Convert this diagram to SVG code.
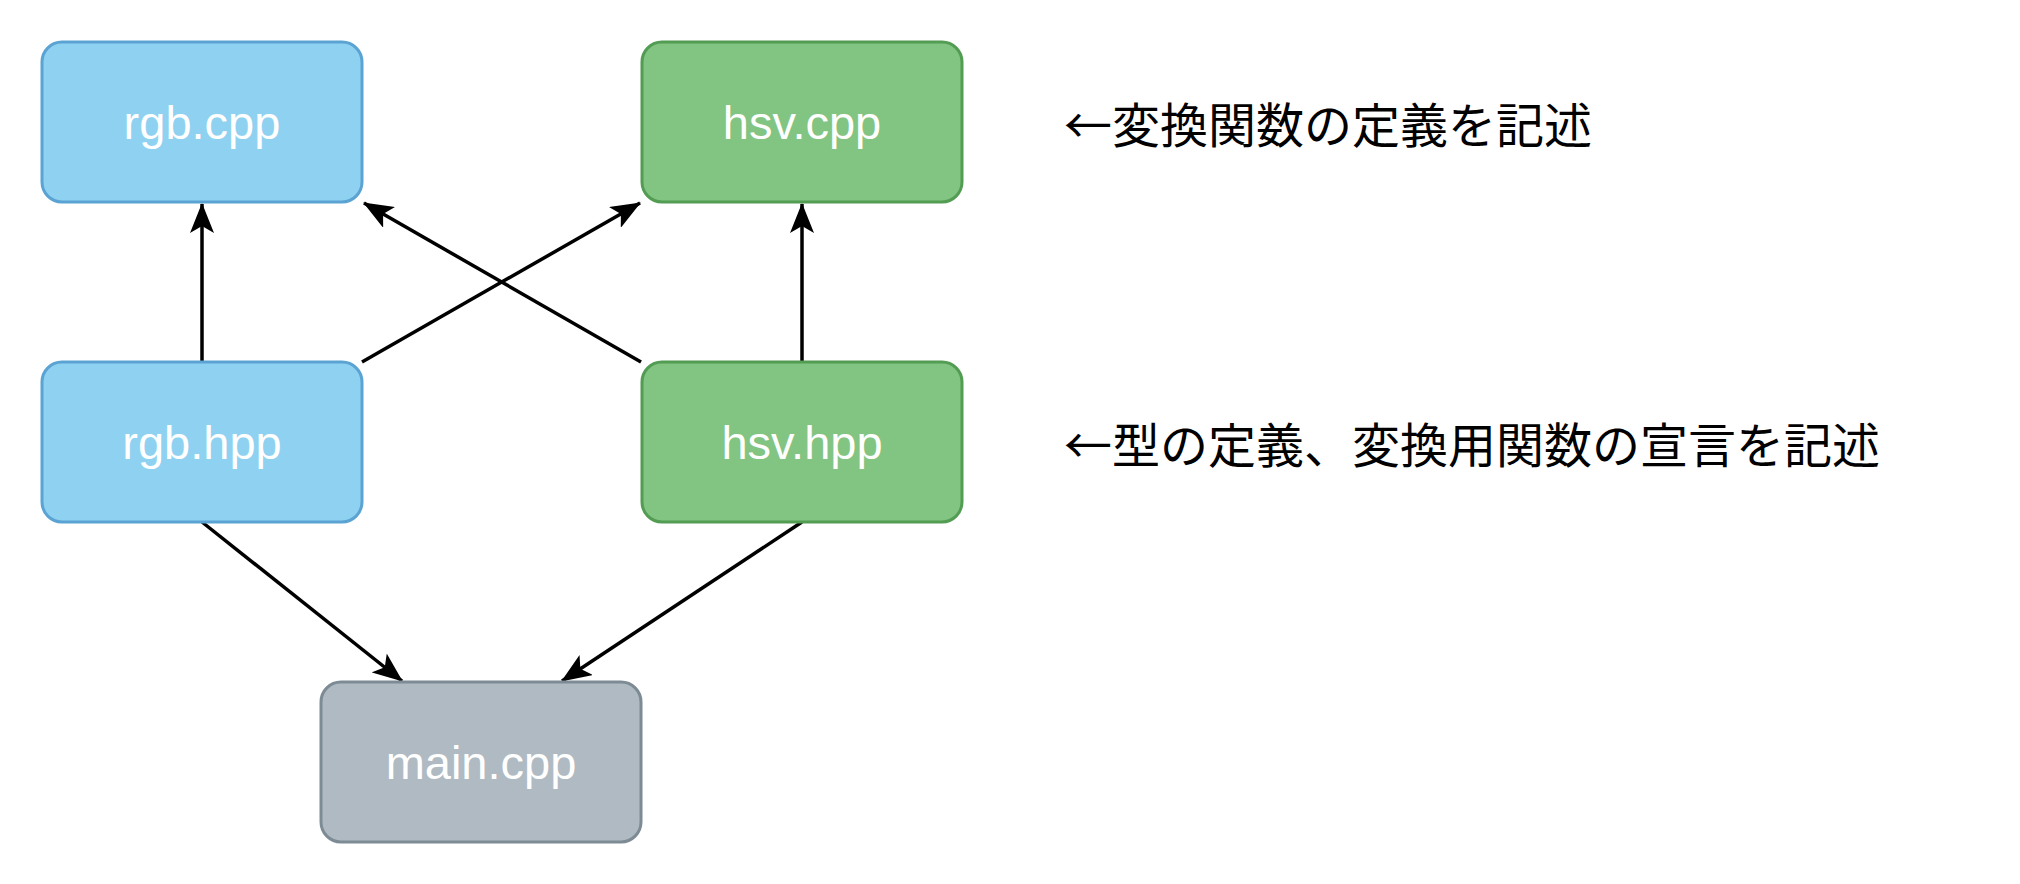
<svg xmlns="http://www.w3.org/2000/svg" width="2020" height="884" viewBox="0 0 2020 884">
<style>
.n{stroke-width:3}
.b{fill:#8fd1f0;stroke:#5ba3d3}
.g{fill:#82c482;stroke:#539c53}
.m{fill:#b0bac2;stroke:#7d8b95}
.t{font-family:"Liberation Sans",Arial,sans-serif;font-size:47px;fill:#fff;text-anchor:middle;dominant-baseline:central}
.l{font-family:"Noto Sans CJK JP",sans-serif;font-size:48px;fill:#000;dominant-baseline:central}
.c{stroke:#000;stroke-width:3.5;fill:none;marker-end:url(#a)}
</style>
<defs><marker id="a" viewBox="0 0 30 24" refX="29" refY="12" markerWidth="30" markerHeight="24" markerUnits="userSpaceOnUse" orient="auto"><path d="M0,0 L30,12 L0,24 L7,12 Z" fill="#000"/></marker></defs>
<rect width="2020" height="884" fill="#fff"/>
<g id="connectors">
<line class="c" x1="202" y1="362" x2="202" y2="204"/>
<line class="c" x1="362" y1="362" x2="640" y2="203"/>
<line class="c" x1="641" y1="362" x2="364" y2="203"/>
<line class="c" x1="802" y1="362" x2="802" y2="204"/>
<line class="c" x1="202" y1="522" x2="402" y2="681"/>
<line class="c" x1="802" y1="522" x2="562" y2="681"/>
</g>
<g id="rgb_cpp"><rect class="n b" x="42" y="42" width="320" height="160" rx="20"/><text class="t" x="202" y="122">rgb.cpp</text></g>
<g id="hsv_cpp"><rect class="n g" x="642" y="42" width="320" height="160" rx="20"/><text class="t" x="802" y="122">hsv.cpp</text></g>
<g id="rgb_hpp"><rect class="n b" x="42" y="362" width="320" height="160" rx="20"/><text class="t" x="202" y="442">rgb.hpp</text></g>
<g id="hsv_hpp"><rect class="n g" x="642" y="362" width="320" height="160" rx="20"/><text class="t" x="802" y="442">hsv.hpp</text></g>
<g id="main_cpp"><rect class="n m" x="321" y="682" width="320" height="160" rx="20"/><text class="t" x="481" y="762">main.cpp</text></g>
<g id="labels">
<text class="l" x="1064" y="122">←変換関数の定義を記述</text>
<text class="l" x="1064" y="442">←型の定義、変換用関数の宣言を記述</text>
</g>
</svg>
